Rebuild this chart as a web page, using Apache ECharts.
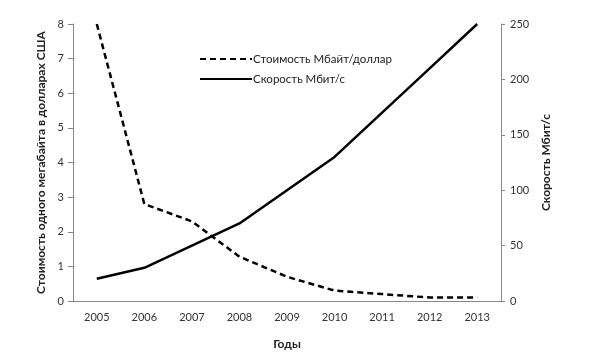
<!DOCTYPE html>
<html><head><meta charset="utf-8">
<script src="https://cdn.jsdelivr.net/npm/echarts@6/dist/echarts.min.js"></script>
<style>html,body{margin:0;padding:0;background:#fff}#c{width:591px;height:355px}</style>
</head><body><div id="c"></div>
<script>
const years = ['2005','2006','2007','2008','2009','2010','2011','2012','2013'];
const costPerMB = [8, 2.8, 2.3, 1.28, 0.7, 0.3, 0.2, 0.1, 0.1];
const speedMbit = [20, 30, 50, 70, 100, 130, 170, 210, 250];
const leftTicks = [0,1,2,3,4,5,6,7,8];
const rightTicks = [0,50,100,150,200,250];

const font = 'Lato, "Open Sans", sans-serif';
const chart = echarts.init(document.getElementById('c'));
chart.setOption({
  animation: false,
  textStyle: {fontFamily: font},
  grid: {left: 73, right: 90, top: 24, bottom: 49},
  legend: {
    orient: 'vertical', left: 194, top: 48, itemWidth: 52, itemHeight: 10, itemGap: 8,
    itemStyle: {opacity: 0},
    textStyle: {fontSize: 11.5, color: '#222', fontFamily: font, padding: [0,0,0,-4]},
    data: ['Стоимость Мбайт/доллар', 'Скорость Мбит/с']
  },
  xAxis: {
    type: 'category', data: years, boundaryGap: true,
    name: 'Годы', nameLocation: 'middle', nameGap: 37,
    nameTextStyle: {fontWeight: 'bold', fontSize: 12, color: '#222'},
    axisLine: {lineStyle: {color: '#888'}},
    axisTick: {length: 5, lineStyle: {color: '#888'}},
    axisLabel: {fontSize: 11, color: '#333', margin: 11}
  },
  yAxis: [{
    type: 'value', min: 0, max: 8, interval: 1,
    name: 'Стоимость одного мегабайта в долларах США', nameLocation: 'middle', nameGap: 24,
    nameTextStyle: {fontWeight: 'bold', fontSize: 12, color: '#222'},
    axisLine: {show: true, lineStyle: {color: '#888'}},
    axisTick: {show: true, length: 5, lineStyle: {color: '#888'}},
    splitLine: {show: false},
    axisLabel: {fontSize: 11, color: '#333', margin: 9}
  }, {
    type: 'value', min: 0, max: 250, interval: 50, position: 'right',
    name: 'Скорость Мбит/с', nameLocation: 'middle', nameGap: 38,
    nameTextStyle: {fontWeight: 'bold', fontSize: 12, color: '#222'},
    axisLine: {show: true, lineStyle: {color: '#888'}},
    axisTick: {show: true, length: 4, lineStyle: {color: '#888'}},
    splitLine: {show: false},
    axisLabel: {fontSize: 11, color: '#333', margin: 9}
  }],
  series: [{
    name: 'Стоимость Мбайт/доллар', type: 'line', yAxisIndex: 0, data: costPerMB,
    symbol: 'none', lineStyle: {color: '#000', width: 2.5, type: [6,4]}, itemStyle: {color: '#000'}
  }, {
    name: 'Скорость Мбит/с', type: 'line', yAxisIndex: 1, data: speedMbit,
    symbol: 'none', lineStyle: {color: '#000', width: 2.5}, itemStyle: {color: '#000'}
  }]
});
</script></body></html>
